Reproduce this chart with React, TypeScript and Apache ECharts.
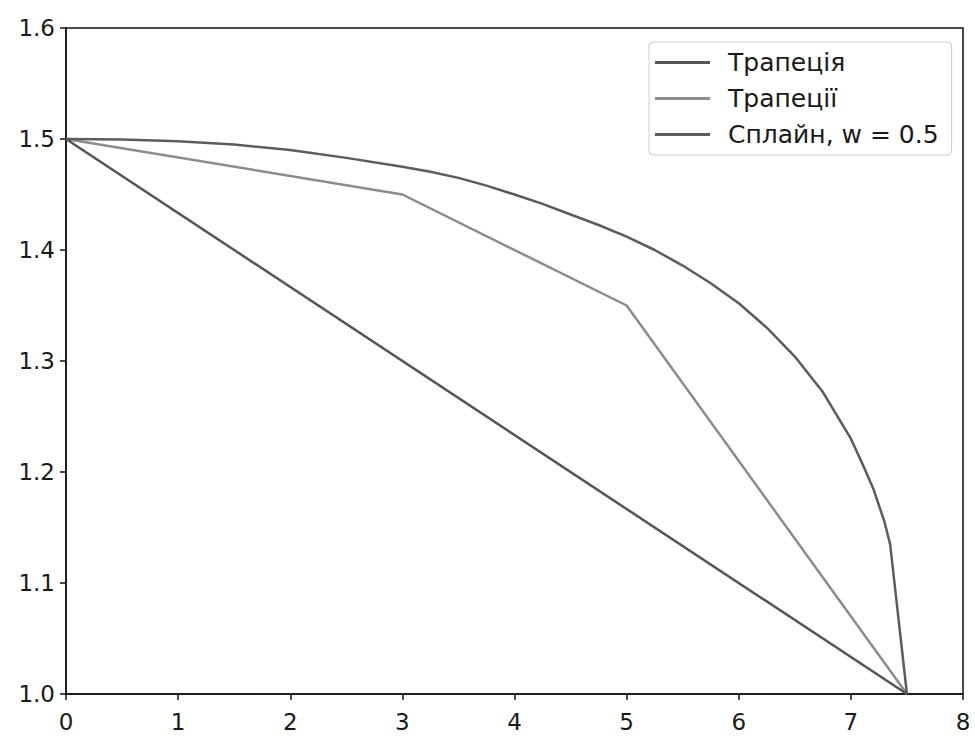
import React, { useEffect, useRef } from "react";
import * as echarts from "echarts";

const seriesNames = ["Трапеція", "Трапеції", "Сплайн, w = 0.5"];

const trapezoidX = [0, 7.5];
const trapezoidY = [1.5, 1.0];

const trapeziiX = [0, 3, 5, 7.5];
const trapeziiY = [1.5, 1.45, 1.35, 1.0];

const splineX = [0, 0.5, 1, 1.5, 2, 2.5, 3, 3.25, 3.5, 3.75, 4, 4.25, 4.5, 4.75, 5, 5.25, 5.5, 5.75, 6, 6.25, 6.5, 6.75, 7, 7.1, 7.2, 7.3, 7.35, 7.5];
const splineY = [1.5, 1.4995, 1.498, 1.495, 1.49, 1.483, 1.475, 1.4705, 1.465, 1.458, 1.45, 1.4415, 1.432, 1.4225, 1.412, 1.4, 1.386, 1.37, 1.352, 1.33, 1.304, 1.272, 1.23, 1.208, 1.185, 1.155, 1.135, 1.0];

const xTicks = [0, 1, 2, 3, 4, 5, 6, 7, 8];
const yTicks = [1.0, 1.1, 1.2, 1.3, 1.4, 1.5, 1.6];

const seriesColors = ["#555555", "#8c8c8c", "#5c5c5c"];

const zip = (xs: number[], ys: number[]) => xs.map((x, i) => [x, ys[i]]);

export default function App() {
  const ref = useRef<HTMLDivElement>(null);
  useEffect(() => {
    if (!ref.current) return;
    const chart = echarts.init(ref.current, undefined, { renderer: "svg" });
    const font = "DejaVu Sans";
    chart.setOption({
      animation: false,
      backgroundColor: "#ffffff",
      grid: {
        left: 66,
        right: 12,
        top: 28,
        bottom: 42,
        show: true,
        borderColor: "#111",
        borderWidth: 1.5,
        backgroundColor: "transparent",
      },
      legend: {
        orient: "vertical",
        left: 649,
        top: 42,
        data: seriesNames.map((n) => ({ name: n, icon: "rect" })),
        itemWidth: 55,
        itemHeight: 3,
        itemGap: 11,
        padding: [8, 13, 8, 6],
        backgroundColor: "#ffffff",
        borderColor: "#cccccc",
        borderWidth: 1,
        borderRadius: 4,
        textStyle: { fontFamily: font, fontSize: 25, color: "#1a1a1a", padding: [0, 0, 0, 13] },
      },
      xAxis: {
        type: "value",
        min: xTicks[0],
        max: xTicks[xTicks.length - 1],
        interval: 1,
        splitLine: { show: false },
        axisLine: { show: true, lineStyle: { color: "#111", width: 1.5 } },
        axisTick: { show: true, inside: false, length: 6, lineStyle: { color: "#111", width: 1.5 } },
        axisLabel: { fontFamily: font, fontSize: 23, color: "#1a1a1a", margin: 16 },
      },
      yAxis: {
        type: "value",
        min: yTicks[0],
        max: yTicks[yTicks.length - 1],
        interval: 0.1,
        splitLine: { show: false },
        axisLine: { show: true, lineStyle: { color: "#111", width: 1.5 } },
        axisTick: { show: true, inside: false, length: 6, lineStyle: { color: "#111", width: 1.5 } },
        axisLabel: {
          fontFamily: font,
          fontSize: 23,
          color: "#1a1a1a",
          margin: 11,
          formatter: (v: number) => v.toFixed(1),
        },
      },
      series: [
        {
          name: seriesNames[0],
          type: "line",
          data: zip(trapezoidX, trapezoidY),
          symbol: "none",
          lineStyle: { color: seriesColors[0], width: 2.5 },
          itemStyle: { color: seriesColors[0] },
          z: 3,
        },
        {
          name: seriesNames[1],
          type: "line",
          data: zip(trapeziiX, trapeziiY),
          symbol: "none",
          lineStyle: { color: seriesColors[1], width: 2.5 },
          itemStyle: { color: seriesColors[1] },
          z: 2,
        },
        {
          name: seriesNames[2],
          type: "line",
          data: zip(splineX, splineY),
          symbol: "none",
          lineStyle: { color: seriesColors[2], width: 2.5 },
          itemStyle: { color: seriesColors[2] },
          z: 4,
        },
      ],
    });
    return () => chart.dispose();
  }, []);
  return (
    <div
      ref={ref}
      style={{ position: "absolute", left: 0, top: 0, width: 975, height: 736 }}
    />
  );
}
